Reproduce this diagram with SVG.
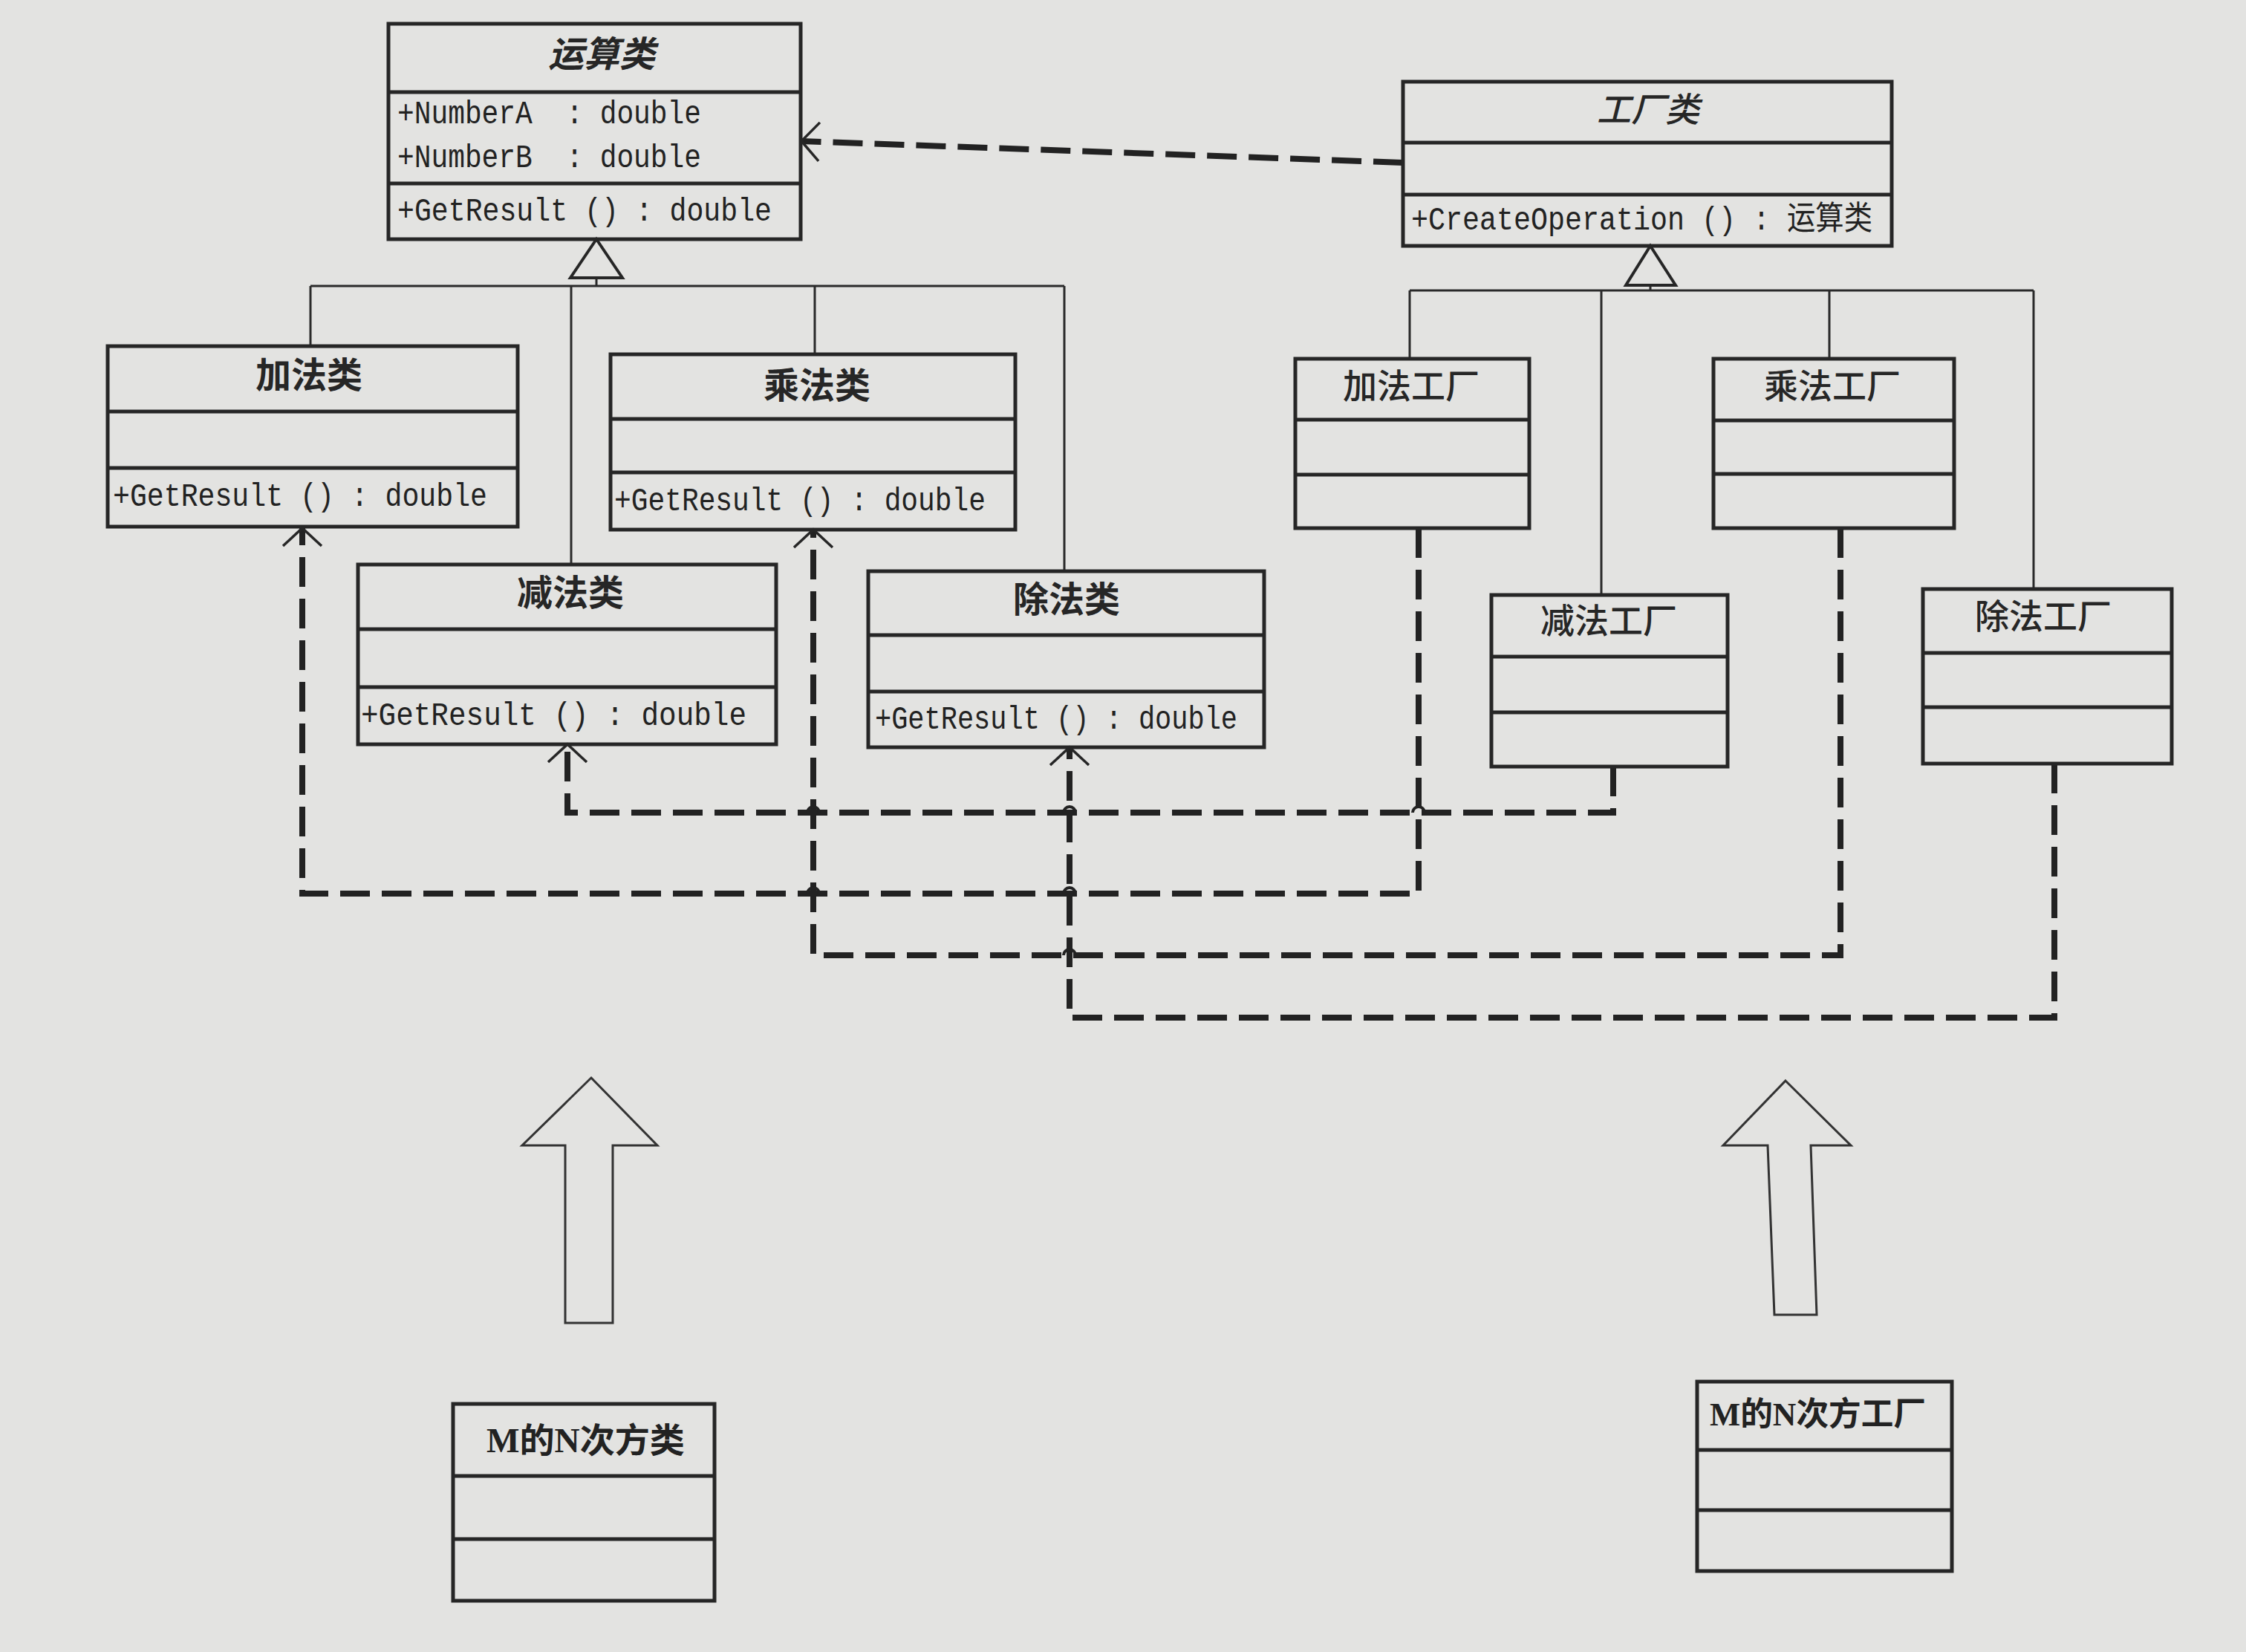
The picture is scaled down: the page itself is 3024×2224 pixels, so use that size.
<svg xmlns="http://www.w3.org/2000/svg" width="3024" height="2224" viewBox="0 0 3024 2224">
<defs>
<style>
.bg{fill:#e3e3e1}
.box{fill:none;stroke:#262626;stroke-width:5}
.dv{stroke:#262626;stroke-width:5}
.ttl{font-family:"Noto Sans CJK SC",sans-serif;font-size:48px;font-weight:bold;text-anchor:middle;fill:#262626}
.ftl{font-family:"Noto Sans CJK SC",sans-serif;font-size:46px;font-weight:500;text-anchor:middle;fill:#262626}
.it{font-style:italic}
.m{font-family:"Liberation Mono","Noto Sans CJK SC",monospace;font-size:44px;fill:#222}
.mn{font-family:"Liberation Serif","Noto Sans CJK SC",serif;font-size:46px;font-weight:bold;fill:#222}
.solid{fill:none;stroke:#2a2a2a;stroke-width:3}
.dash{fill:none;stroke:#222;stroke-width:8;stroke-dasharray:40 16}
.hop{fill:none;stroke:#222;stroke-width:4}
.tri{fill:#e3e3e1;stroke:#262626;stroke-width:4}
.block{fill:none;stroke:#333;stroke-width:3;stroke-linejoin:miter}
</style>
<marker id="open" markerUnits="userSpaceOnUse" markerWidth="60" markerHeight="60" viewBox="-30 -30 60 60" refX="0" refY="0" orient="auto" overflow="visible">
<path d="M-24,-26 L0,0 L-24,26" fill="none" stroke="#262626" stroke-width="3.5"/>
</marker>
</defs>
<rect class="bg" x="0" y="0" width="3024" height="2224"/>

<g id="connectors">
<path class="solid" d="M418,385 H1433 M803,374 V385 M418,385 V466 M769,385 V760 M1097,385 V477 M1433,385 V769"/>
<polygon class="tri" points="803,322 838,374 768,374"/>
<path class="solid" d="M1898,391 H2738 M2222,384 V391 M1898,391 V483 M2156,391 V801 M2463,391 V483 M2738,391 V793"/>
<polygon class="tri" points="2222,331 2256,384 2189,384"/>
<path class="dash" d="M1889,219 L1079,190" marker-end="url(#open)"/>
<path class="dash" d="M1910,711 V1203 H407 V711" marker-end="url(#open)"/>
<path class="dash" d="M2172,1032 V1094 H764 V1002" marker-end="url(#open)"/>
<path class="dash" d="M2478,711 V1286 H1095 V713" marker-end="url(#open)"/>
<path class="dash" d="M2766,1028 V1370 H1440 V1006" marker-end="url(#open)"/>
<path class="hop" d="M1087,1094 A8,8 0 0 1 1103,1094 M1432,1094 A8,8 0 0 1 1448,1094 M1902,1094 A8,8 0 0 1 1918,1094 M1087,1203 A8,8 0 0 1 1103,1203 M1432,1203 A8,8 0 0 1 1448,1203 M1432,1286 A8,8 0 0 1 1448,1286"/>
<polygon class="block" points="796,1451 885,1542 825,1542 825,1781 761,1781 761,1542 703,1542"/>
<polygon class="block" points="2404,1455 2492,1542 2438,1542 2446,1770 2389,1770 2380,1542 2320,1542"/>
</g>

<g id="operation">
<rect class="box" x="523" y="32" width="555" height="290"/>
<line class="dv" x1="523" y1="124" x2="1078" y2="124"/>
<line class="dv" x1="523" y1="247" x2="1078" y2="247"/>
<text class="ttl it" x="810" y="90">运算类</text>
<text class="m" x="535" y="166" textLength="409" lengthAdjust="spacingAndGlyphs" xml:space="preserve">+NumberA  : double</text>
<text class="m" x="535" y="225" textLength="409" lengthAdjust="spacingAndGlyphs" xml:space="preserve">+NumberB  : double</text>
<text class="m" x="535" y="297" textLength="504" lengthAdjust="spacingAndGlyphs" xml:space="preserve">+GetResult () : double</text>
</g>

<g id="add">
<rect class="box" x="145" y="466" width="552" height="243"/>
<line class="dv" x1="145" y1="554" x2="697" y2="554"/>
<line class="dv" x1="145" y1="630" x2="697" y2="630"/>
<text class="ttl" x="416" y="522">加法类</text>
<text class="m" x="152" y="681" textLength="504" lengthAdjust="spacingAndGlyphs" xml:space="preserve">+GetResult () : double</text>
</g>

<g id="mul">
<rect class="box" x="822" y="477" width="545" height="236"/>
<line class="dv" x1="822" y1="564" x2="1367" y2="564"/>
<line class="dv" x1="822" y1="636" x2="1367" y2="636"/>
<text class="ttl" x="1100" y="536">乘法类</text>
<text class="m" x="827" y="687" textLength="500" lengthAdjust="spacingAndGlyphs" xml:space="preserve">+GetResult () : double</text>
</g>

<g id="sub">
<rect class="box" x="482" y="760" width="563" height="242"/>
<line class="dv" x1="482" y1="847" x2="1045" y2="847"/>
<line class="dv" x1="482" y1="925" x2="1045" y2="925"/>
<text class="ttl" x="768" y="815">减法类</text>
<text class="m" x="486" y="976" textLength="519" lengthAdjust="spacingAndGlyphs" xml:space="preserve">+GetResult () : double</text>
</g>

<g id="div">
<rect class="box" x="1169" y="769" width="533" height="237"/>
<line class="dv" x1="1169" y1="855" x2="1702" y2="855"/>
<line class="dv" x1="1169" y1="931" x2="1702" y2="931"/>
<text class="ttl" x="1436" y="824">除法类</text>
<text class="m" x="1178" y="981" textLength="488" lengthAdjust="spacingAndGlyphs" xml:space="preserve">+GetResult () : double</text>
</g>

<g id="factory">
<rect class="box" x="1889" y="110" width="658" height="221"/>
<line class="dv" x1="1889" y1="192" x2="2547" y2="192"/>
<line class="dv" x1="1889" y1="262" x2="2547" y2="262"/>
<text class="ftl it" x="2219" y="164">工厂类</text>
<text class="m" x="1900" y="309" textLength="621" lengthAdjust="spacingAndGlyphs" xml:space="preserve">+CreateOperation () : 运算类</text>
</g>

<g id="addFactory">
<rect class="box" x="1744" y="483" width="315" height="228"/>
<line class="dv" x1="1744" y1="565" x2="2059" y2="565"/>
<line class="dv" x1="1744" y1="639" x2="2059" y2="639"/>
<text class="ftl" x="1900" y="536">加法工厂</text>
</g>

<g id="mulFactory">
<rect class="box" x="2307" y="483" width="324" height="228"/>
<line class="dv" x1="2307" y1="566" x2="2631" y2="566"/>
<line class="dv" x1="2307" y1="638" x2="2631" y2="638"/>
<text class="ftl" x="2467" y="536">乘法工厂</text>
</g>

<g id="subFactory">
<rect class="box" x="2008" y="801" width="318" height="231"/>
<line class="dv" x1="2008" y1="884" x2="2326" y2="884"/>
<line class="dv" x1="2008" y1="959" x2="2326" y2="959"/>
<text class="ftl" x="2166" y="852">减法工厂</text>
</g>

<g id="divFactory">
<rect class="box" x="2589" y="793" width="335" height="235"/>
<line class="dv" x1="2589" y1="879" x2="2924" y2="879"/>
<line class="dv" x1="2589" y1="952" x2="2924" y2="952"/>
<text class="ftl" x="2751" y="846">除法工厂</text>
</g>

<g id="powClass">
<rect class="box" x="610" y="1890" width="352" height="265"/>
<line class="dv" x1="610" y1="1987" x2="962" y2="1987"/>
<line class="dv" x1="610" y1="2072" x2="962" y2="2072"/>
<text class="mn" x="655" y="1955" textLength="267" lengthAdjust="spacingAndGlyphs">M的N次方类</text>
</g>

<g id="powFactory">
<rect class="box" x="2285" y="1860" width="343" height="255"/>
<line class="dv" x1="2285" y1="1952" x2="2628" y2="1952"/>
<line class="dv" x1="2285" y1="2033" x2="2628" y2="2033"/>
<text class="mn" x="2302" y="1919" textLength="291" lengthAdjust="spacingAndGlyphs" style="font-size:44px">M的N次方工厂</text>
</g>
</svg>
